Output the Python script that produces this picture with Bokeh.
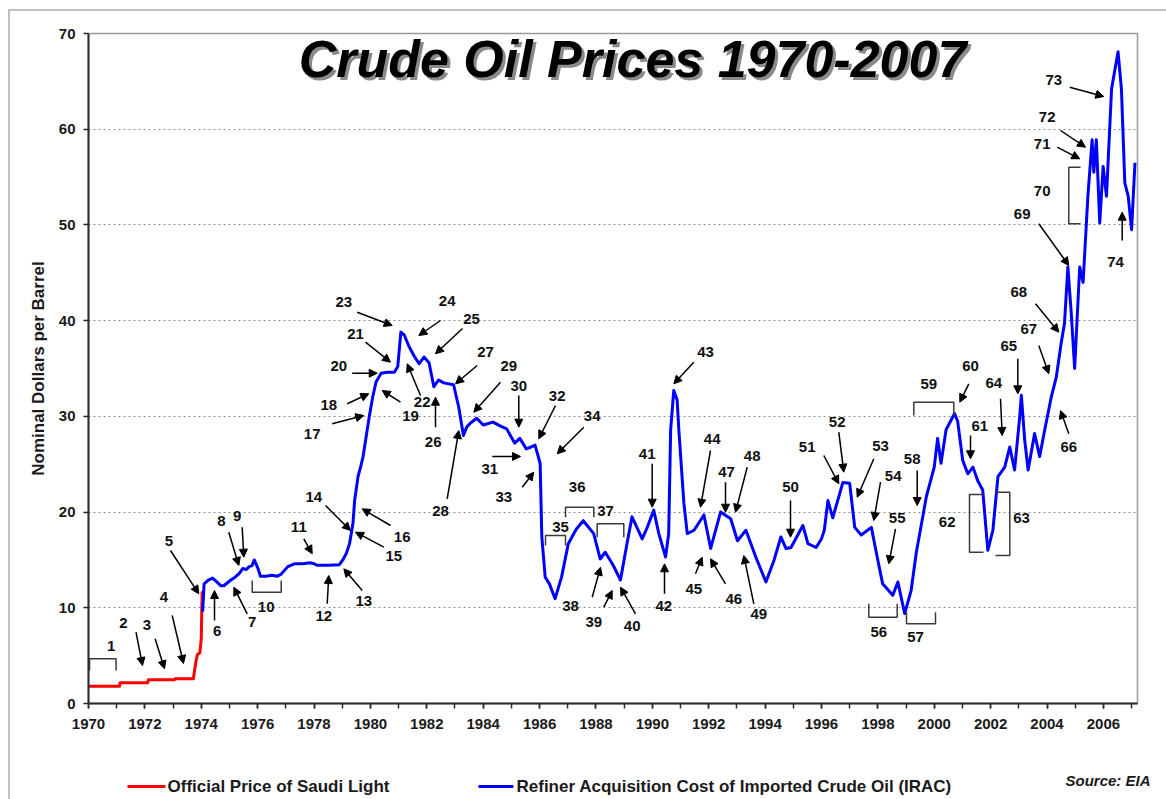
from bokeh.plotting import figure
from bokeh.layouts import column
from bokeh.models import Range1d, FixedTicker, Label, Arrow, NormalHead, ColumnDataSource
from bokeh.core.properties import value
from bokeh.embed import file_html
from bokeh.resources import INLINE

# ---------------- data ----------------
saudi_years = [1970.0, 1971.1, 1971.12, 1972.1, 1972.12, 1973.05, 1973.07, 1973.72,
               1973.8, 1973.86, 1973.95, 1974.0, 1974.03, 1974.12]
saudi_price = [1.80, 1.80, 2.18, 2.18, 2.48, 2.48, 2.59, 2.59,
               4.2, 5.1, 5.3, 6.8, 11.6, 11.65]

irac_years = [1974.05, 1974.1, 1974.25, 1974.4, 1974.55, 1974.7, 1974.8, 1975.05, 1975.2,
              1975.35, 1975.47, 1975.6, 1975.7, 1975.8, 1975.88, 1976.0, 1976.1, 1976.3,
              1976.5, 1976.7, 1976.83, 1977.07, 1977.3, 1977.6, 1977.85, 1978.0, 1978.1,
              1978.5, 1978.9, 1979.02, 1979.15, 1979.26, 1979.38, 1979.44, 1979.56, 1979.66,
              1979.74, 1979.85, 1979.96, 1980.08, 1980.2, 1980.38, 1980.6, 1980.85, 1980.97,
              1981.08, 1981.2, 1981.37, 1981.55, 1981.73, 1981.9, 1982.08, 1982.25, 1982.42,
              1982.6, 1982.95, 1983.13, 1983.3, 1983.42, 1983.55, 1983.77, 1984.0, 1984.35,
              1984.6, 1984.83, 1985.12, 1985.3, 1985.53, 1985.7, 1985.84, 1986.02, 1986.08,
              1986.2, 1986.35, 1986.55, 1986.78, 1987.02, 1987.3, 1987.55, 1987.92, 1988.15,
              1988.33, 1988.6, 1988.87, 1989.1, 1989.28, 1989.64, 1989.82, 1990.05, 1990.23,
              1990.47, 1990.58, 1990.65, 1990.76, 1990.88, 1990.94, 1991.12, 1991.24, 1991.48,
              1991.83, 1992.07, 1992.42, 1992.78, 1993.02, 1993.32, 1993.67, 1994.03, 1994.32,
              1994.56, 1994.74, 1994.92, 1995.34, 1995.52, 1995.81, 1996.0, 1996.1, 1996.23,
              1996.4, 1996.76, 1997.0, 1997.18, 1997.41, 1997.77, 1997.95, 1998.17, 1998.53,
              1998.71, 1998.95, 1999.18, 1999.36, 1999.72, 2000.0, 2000.12, 2000.24, 2000.42,
              2000.72, 2000.83, 2001.01, 2001.19, 2001.37, 2001.54, 2001.72, 2001.9, 2002.08,
              2002.26, 2002.5, 2002.68, 2002.85, 2003.03, 2003.09, 2003.21, 2003.33, 2003.56,
              2003.74, 2003.92, 2004.15, 2004.33, 2004.5, 2004.62, 2004.74, 2004.86, 2004.98,
              2005.16, 2005.28, 2005.45, 2005.6, 2005.66, 2005.75, 2005.87, 2005.99, 2006.11,
              2006.29, 2006.52, 2006.64, 2006.76, 2006.88, 2007.0, 2007.12]
irac_price = [9.6, 12.5, 12.9, 13.1, 12.7, 12.3, 12.3, 12.9, 13.2,
              13.6, 14.1, 14.0, 14.3, 14.4, 15.0, 14.2, 13.3, 13.3,
              13.4, 13.3, 13.5, 14.3, 14.6, 14.6, 14.7, 14.6, 14.45,
              14.45, 14.5, 15.0, 15.7, 16.7, 18.8, 21.2, 23.7, 24.8,
              25.8, 27.9, 30.0, 32.0, 33.6, 34.5, 34.6, 34.6, 35.2,
              38.8, 38.5, 37.3, 36.3, 35.5, 36.2, 35.6, 33.1, 33.8,
              33.5, 33.3, 31.0, 28.0, 28.9, 29.3, 29.8, 29.1, 29.4,
              29.0, 28.7, 27.2, 27.7, 26.6, 26.8, 27.0, 25.1, 17.4,
              13.2, 12.5, 10.95, 13.2, 16.7, 18.2, 19.1, 17.75, 15.1,
              15.8, 14.5, 12.9, 16.7, 19.5, 17.2, 18.4, 20.2, 17.75,
              15.3, 17.75, 28.6, 32.7, 31.7, 28.6, 20.9, 17.75, 18.1,
              19.7, 16.2, 20.0, 19.3, 17.0, 18.1, 15.3, 12.7, 15.0,
              17.4, 16.2, 16.3, 18.6, 16.7, 16.3, 17.2, 18.1, 21.2,
              19.4, 23.1, 23.0, 18.4, 17.6, 18.4, 15.7, 12.5, 11.3,
              12.7, 9.4, 11.8, 15.7, 21.6, 24.7, 27.7, 25.1, 28.6,
              30.3, 29.5, 25.4, 24.0, 24.7, 23.3, 22.3, 16.0, 18.1,
              23.7, 24.7, 26.8, 24.4, 29.9, 32.2, 27.5, 24.4, 28.2,
              25.8, 28.6, 32.0, 34.1, 37.6, 39.7, 45.6, 40.8, 35.0,
              45.6, 44.0, 53.0, 58.9, 55.5, 58.9, 50.2, 56.1, 53.0,
              64.2, 68.1, 64.2, 54.4, 53.0, 49.5, 56.5]

y_ticks = [0, 10, 20, 30, 40, 50, 60, 70]
x_tick_labels = list(range(1970, 2007, 2))
x_minor_ticks = list(range(1970, 2008))
legend_labels = ["Official Price of Saudi Light",
                 "Refiner Acquisition Cost of Imported Crude Oil (IRAC)"]
source_note = "Source: EIA"
title_txt = "Crude Oil Prices 1970-2007"

# ---------------- layout (page pixels) ----------------
W, H_MAIN, H_LEG = 1166, 745, 54
FL, FR, FT, FB = 88, 1137, 33, 703
X0, X1 = 1970, 2007.21
Y0, Y1 = 0, 70
BORDER = "#b9c2ca"


def dx(px):
    return X0 + (px - FL) * (X1 - X0) / (FR - FL)


def dy(py):
    return Y0 + (FB - py) * (Y1 - Y0) / (FB - FT)


FONT = "Liberation Sans"

# annotation numbers: (text, page x, page y)
ann_labels = [
    ("1", 110.7, 645), ("2", 123, 622), ("3", 146.5, 624), ("4", 163.3, 596.7),
    ("5", 168.3, 540), ("6", 216.7, 630), ("7", 251.7, 621.7), ("8", 221, 520),
    ("9", 236.7, 515), ("10", 265.7, 606), ("11", 298.3, 526.7), ("12", 323.3, 615),
    ("13", 363.3, 600), ("14", 313.3, 496.7), ("15", 393.3, 555), ("16", 401.7, 536.7),
    ("17", 311.7, 433.3), ("18", 328.3, 404), ("19", 410, 415.7), ("20", 338.3, 365),
    ("21", 355, 333.3), ("22", 421.7, 401.7), ("23", 343.3, 301.7), ("24", 446.7, 300),
    ("25", 471, 318), ("26", 432.7, 441.7), ("27", 485, 351.7), ("28", 440, 510),
    ("29", 508.3, 365), ("30", 518.3, 385), ("31", 489.3, 468.3), ("32", 556.7, 395),
    ("33", 503.3, 496.7), ("34", 591.7, 415), ("35", 560, 526.7), ("36", 576.7, 486.7),
    ("37", 605, 510), ("38", 570, 605), ("39", 593.3, 621.7), ("40", 631.7, 625),
    ("41", 646.7, 453.3), ("42", 663.3, 605), ("43", 705, 351.7), ("44", 711.7, 438.3),
    ("45", 693.3, 588.3), ("46", 733.3, 598.3), ("47", 726, 471.7), ("48", 751.7, 455),
    ("49", 758.3, 613.3), ("50", 790, 486.7), ("51", 806.7, 446.7), ("52", 836.7, 421.7),
    ("53", 880, 445), ("54", 892.7, 475.7), ("55", 896.7, 517.7), ("56", 878.3, 631.7),
    ("57", 915, 636.7), ("58", 911.7, 458.3), ("59", 928.3, 383.3), ("60", 970, 365),
    ("61", 979.3, 425), ("62", 946.7, 521), ("63", 1021, 517.7), ("64", 993.3, 382.7),
    ("65", 1008.3, 345), ("66", 1068.3, 446.7), ("67", 1028.3, 328.3), ("68", 1018.3, 291.7),
    ("69", 1021.7, 213.3), ("70", 1041.7, 190), ("71", 1041.7, 143.3), ("72", 1046.7, 116),
    ("73", 1053.3, 79.3), ("74", 1115, 261.7),
]

# arrows: (start page x, y, end page x, y)
ann_arrows = [
    (135.5, 631.7, 142, 665), (154.6, 638.3, 164, 668.3), (171.7, 615, 183, 663),
    (170, 550, 198.3, 593.3), (214, 620, 214, 590), (246.7, 613.3, 233.3, 586.7),
    (228.3, 531.7, 238.3, 565), (241.7, 526.7, 243.3, 556.7), (303.3, 538.3, 311.7, 553.3),
    (326.7, 603.3, 328.3, 575), (361.7, 590, 343.3, 568.3), (325, 505, 350, 530),
    (383.3, 546.7, 355, 531.7), (390, 525, 361.7, 508.3), (331.7, 423.3, 363.3, 415),
    (346.7, 403.3, 368.3, 393.3), (400, 401.7, 381.7, 390), (351.7, 372.7, 376.7, 372.7),
    (365, 341.7, 390, 361.7), (420, 395, 406.7, 363.3), (356.7, 311.7, 391.7, 325),
    (440, 320, 418.3, 335), (462, 328, 435, 353.3), (435, 426.7, 435, 396.7),
    (476.7, 365, 455, 383.3), (446.7, 498.3, 458.3, 430), (500, 381.7, 473.3, 411.7),
    (518.3, 395, 518.3, 426.7), (491.7, 456, 520, 456), (555, 405, 538.3, 438.3),
    (521.7, 486.7, 533.3, 471.7), (583.3, 426.7, 556.7, 453.3),
    (591.7, 596.7, 600, 566.7), (603.3, 606.7, 611.7, 590), (635, 613.3, 620, 586.7),
    (651.7, 463.3, 651.7, 506.7), (664, 593.3, 664, 563.3), (693.3, 361.7, 673.3, 383.3),
    (710, 450, 700, 506.7), (695, 573.3, 701.7, 556.7), (725, 583.3, 710, 558.3),
    (725, 481.7, 725, 511.7), (746.7, 466.7, 735, 511.7), (753.3, 603.3, 743.3, 555),
    (790, 500, 790, 536.7), (823.3, 455, 838.3, 483.3), (838.3, 431.7, 843.3, 471.7),
    (873.3, 458.3, 856.7, 496.7), (880, 481.7, 873.3, 520), (895, 528.3, 888.3, 563.3),
    (916.7, 470, 916.7, 505), (968.3, 383.3, 959.3, 401.7), (970, 435, 970, 458.3),
    (1000, 398.3, 1001.7, 435), (1017.3, 358.3, 1017.3, 393.3), (1068.3, 433.3, 1060, 410),
    (1038.3, 345, 1048.3, 373.3), (1035, 303.3, 1058.3, 331.7), (1038.3, 223.3, 1068.3, 265),
    (1056.7, 146.7, 1079.3, 158.3), (1060, 130, 1085, 146.7), (1069.3, 86.7, 1103.3, 96),
    (1121.7, 240, 1121.7, 211.7),
]

# brackets: page-pixel polylines
ann_brackets = [
    [(89, 670), (89, 658.3), (115.6, 658.3), (115.6, 670)],
    [(251.7, 580), (251.7, 591.7), (280.7, 591.7), (280.7, 580)],
    [(545, 545), (545, 535), (565, 535), (565, 545)],
    [(565, 516.7), (565, 506.7), (593.3, 506.7), (593.3, 516.7)],
    [(596.7, 536.7), (596.7, 523.3), (623.3, 523.3), (623.3, 536.7)],
    [(868.3, 603.3), (868.3, 616.7), (896.7, 616.7), (896.7, 603.3)],
    [(906, 611.7), (906, 623.3), (935, 623.3), (935, 611.7)],
    [(913.3, 415), (913.3, 401.7), (953.3, 401.7), (953.3, 415)],
    [(983, 494), (969, 494), (969, 551.7), (983, 551.7)],
    [(995, 491.7), (1009.3, 491.7), (1009.3, 555), (995, 555)],
    [(1080, 166.7), (1068.3, 166.7), (1068.3, 223.3), (1080, 223.3)],
]

# ---------------- main figure ----------------
p = figure(width=W, height=H_MAIN, x_range=Range1d(X0, X1), y_range=Range1d(Y0, Y1),
           output_backend="svg", toolbar_location=None,
           min_border_left=FL, min_border_right=W - FR,
           min_border_top=FT, min_border_bottom=H_MAIN - FB)
p.background_fill_color = "white"
p.border_fill_color = None
p.outline_line_color = "#9a9a9a"
p.outline_line_width = 1.5
p.styles = {
    "background-color": "white",
    "background-image": f"linear-gradient({BORDER},{BORDER}), linear-gradient({BORDER},{BORDER})",
    "background-size": "2px 100%, 100% 2px",
    "background-position": "8px 9px, 8px 9px",
    "background-repeat": "no-repeat",
}

p.xgrid.visible = False
p.ygrid.grid_line_color = "#8c8c8c"
p.ygrid.grid_line_dash = "2 3"
p.ygrid.grid_line_width = 1

for ax in (p.xaxis, p.yaxis):
    ax.axis_line_color = "#2a2a2a"
    ax.axis_line_width = 2
    ax.major_tick_line_color = "#2a2a2a"
    ax.major_tick_line_width = 1.5
    ax.major_tick_in = 0
    ax.major_tick_out = 5
    ax.major_label_text_font = FONT
    ax.major_label_text_font_style = "bold"
    ax.major_label_text_font_size = "15px"
    ax.major_label_text_color = "#1a1a1a"

p.xaxis.ticker = FixedTicker(ticks=x_tick_labels, minor_ticks=x_minor_ticks)
p.xaxis.minor_tick_line_color = "#2a2a2a"
p.xaxis.minor_tick_line_width = 1.5
p.xaxis.minor_tick_in = 0
p.xaxis.minor_tick_out = 5
p.xaxis.major_label_standoff = 10

p.yaxis.ticker = FixedTicker(ticks=y_ticks)
p.yaxis.minor_tick_line_color = None
p.yaxis.major_label_standoff = 8
p.yaxis.axis_label = "Nominal Dollars per Barrel"
p.yaxis.axis_label_text_font = FONT
p.yaxis.axis_label_text_font_style = "bold"
p.yaxis.axis_label_text_font_size = "17px"
p.yaxis.axis_label_text_color = "#1a1a1a"
p.yaxis.axis_label_standoff = 8

# data lines
p.line(saudi_years, saudi_price, line_color="#ff0000", line_width=3, line_join="round")
p.line(irac_years, irac_price, line_color="#0000ff", line_width=3, line_join="round")

# brackets
p.multi_line(xs=[[dx(a) for a, b in br] for br in ann_brackets],
             ys=[[dy(b) for a, b in br] for br in ann_brackets],
             line_color="#3a3a3a", line_width=1.5)

# arrows
arrow_src = ColumnDataSource(dict(
    x0=[dx(a[0]) for a in ann_arrows], y0=[dy(a[1]) for a in ann_arrows],
    x1=[dx(a[2]) for a in ann_arrows], y1=[dy(a[3]) for a in ann_arrows]))
p.add_layout(Arrow(x_start="x0", y_start="y0", x_end="x1", y_end="y1", source=arrow_src,
                   line_color="black", line_width=1.5,
                   end=NormalHead(size=8, fill_color="black", line_color="black", line_width=1)))

# number labels
p.text(x=[dx(t[1]) for t in ann_labels], y=[dy(t[2]) for t in ann_labels],
       text=[t[0] for t in ann_labels], text_font=value(FONT), text_font_style="bold",
       text_font_size="15px", text_align="center", text_baseline="middle",
       text_color="#111111")

# title with shadow
TITLE_BASE = 58
p.add_layout(Label(x=dx(635), y=dy(TITLE_BASE + 3), text=title_txt, text_font=FONT,
                   text_font_style="bold italic", text_font_size="52px",
                   text_color="#8a8a8a", text_align="center", text_baseline="alphabetic"))
p.add_layout(Label(x=dx(632), y=dy(TITLE_BASE), text=title_txt, text_font=FONT,
                   text_font_style="bold italic", text_font_size="52px",
                   text_color="black", text_align="center", text_baseline="alphabetic"))

# ---------------- legend strip ----------------
leg = figure(width=W, height=H_LEG, x_range=Range1d(0, W), y_range=Range1d(H_MAIN + H_LEG, H_MAIN),
             output_backend="svg", toolbar_location=None,
             x_axis_location=None, y_axis_location=None,
             min_border_left=0, min_border_right=0, min_border_top=0, min_border_bottom=0)
SRC_X = 1150
if "frame_align" in leg.properties():
    leg.frame_align = False
    p.frame_align = False
else:
    leg.x_range = Range1d(FL, FR)
    leg.min_border_left = FL
    leg.min_border_right = W - FR
    SRC_X = FR - 2

leg.grid.visible = False
leg.outline_line_color = None
leg.background_fill_color = None
leg.border_fill_color = None
leg.styles = {
    "background-color": "white",
    "background-image": f"linear-gradient({BORDER},{BORDER})",
    "background-size": "2px 100%",
    "background-position": "8px 0px",
    "background-repeat": "no-repeat",
}

LEG_Y = 786
leg.segment(x0=[127, 478], y0=[LEG_Y, LEG_Y], x1=[165, 513], y1=[LEG_Y, LEG_Y],
            line_color=["#ff0000", "#0000ff"], line_width=3)
leg.text(x=[167, 516], y=[LEG_Y, LEG_Y], text=legend_labels, text_font=value(FONT),
         text_font_style="bold", text_font_size="17px", text_color="#1a1a1a",
         text_align="left", text_baseline="middle")
leg.text(x=[SRC_X], y=[780], text=[source_note], text_font=value(FONT),
         text_font_style="bold italic", text_font_size="15px", text_color="#1a1a1a",
         text_align="right", text_baseline="middle")

layout = column(p, leg, spacing=0)
open("out.html", "w").write(file_html(layout, INLINE))
